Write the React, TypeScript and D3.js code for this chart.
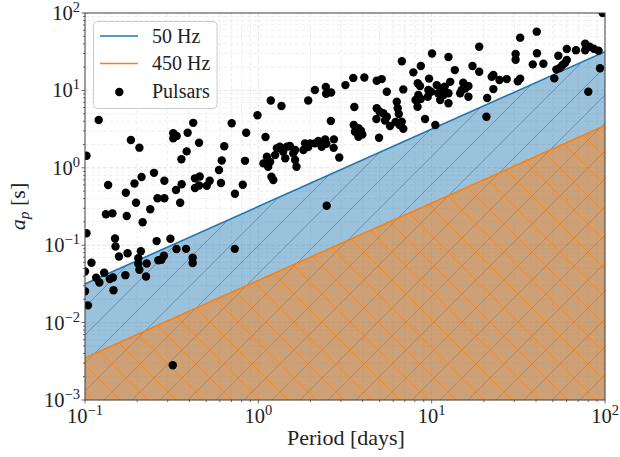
import React from 'react';
import * as d3 from 'd3';

// ---- data ----
const periodDays = [
  0.102, 0.120, 0.184, 0.206, 0.136, 0.132, 0.144, 0.172, 0.174, 0.193,
  0.197, 0.212, 0.215, 0.238, 0.250, 0.262, 0.287, 0.287, 0.323, 0.323,
  0.338, 0.335, 0.354, 0.360, 0.361, 0.386, 0.391, 0.421, 0.431, 0.431,
  0.455, 0.459, 0.455, 0.504, 0.524, 0.593, 0.609, 0.615, 0.636, 0.702,
  0.733, 0.813, 0.838, 0.851, 0.102, 0.149, 0.150, 0.157, 0.176, 0.109,
  0.210, 0.203, 0.203, 0.206, 0.227, 0.225, 0.259, 0.311, 0.265, 0.276,
  0.285, 0.337, 0.383, 0.418, 0.418, 0.731, 0.100, 0.116, 0.121, 0.129,
  0.139, 0.145, 0.146, 0.171, 0.100, 0.104, 0.321,
  0.989, 1.10, 1.18, 1.36, 1.94, 1.07, 1.12, 1.14, 1.19, 1.22,
  1.28, 1.33, 1.39, 1.46, 1.52, 1.59, 1.63, 1.66, 1.82, 1.86,
  1.25, 1.43, 1.17, 1.94, 1.63, 2.48,
  2.12, 2.45, 2.46, 2.63, 3.18, 3.53, 4.09, 4.82, 5.15, 5.51,
  6.73, 6.86, 7.84, 8.66, 9.66, 10.05, 8.31, 8.57, 9.57, 9.92,
  8.38, 8.07, 8.29, 8.65, 9.49, 9.16, 3.58, 2.62, 3.55, 3.78,
  3.61, 3.91, 3.98, 3.78, 4.82, 5.00, 4.80, 5.26, 5.38, 5.51,
  4.97, 5.75, 6.29, 6.37, 6.46, 6.72, 6.86, 6.19, 6.53,
  1.99, 2.12, 2.22, 2.32, 2.43, 2.47, 2.73, 2.72, 2.93,
  10.7, 10.9, 11.2, 11.4, 11.9, 12.5, 12.5, 12.8, 11.7, 12.5,
  13.6, 10.5, 14.6, 15.2, 15.6, 16.3, 16.3, 14.9, 17.2, 18.8,
  18.8, 20.9, 20.7, 22.2, 22.7, 22.7, 24.6, 27.1, 30.5, 30.5,
  31.4, 32.4, 32.4, 38.3, 40.4, 40.5, 44.1, 51.0, 52.4, 55.0,
  56.9, 58.8, 60.2, 53.8, 60.2, 68.0, 76.9, 76.9, 81.6, 86.1,
  91.8, 80.1, 93.6, 97.0,
];
const apSeconds = [
  1.43, 4.15, 2.29, 1.82, 0.600, 0.251, 0.258, 0.477, 0.238, 0.627,
  0.354, 0.760, 0.198, 0.291, 0.861, 0.405, 0.405, 0.681, 2.79, 2.40,
  2.57, 0.517, 0.354, 1.29, 0.612, 1.63, 2.84, 3.81, 0.731, 0.548,
  2.11, 0.772, 0.590, 0.585, 0.681, 0.937, 0.637, 1.24, 1.90, 3.76,
  0.463, 0.605, 1.23, 2.84, 0.143, 0.122, 0.0962, 0.0714, 0.0788, 0.0593,
  0.0836, 0.0679, 0.0575, 0.0481, 0.0581, 0.0394, 0.113, 0.121, 0.0640, 0.0650,
  0.0730, 0.0893, 0.0897, 0.0687, 0.0589, 0.0897, 0.0457, 0.0379, 0.0330, 0.0440,
  0.0366, 0.0383, 0.0262, 0.0410, 0.0254, 0.0167, 0.00281,
  4.78, 2.50, 7.41, 6.29, 7.41, 1.14, 1.39, 1.03, 0.767, 0.695,
  1.79, 1.87, 1.61, 1.87, 1.91, 1.54, 1.26, 1.03, 1.70, 2.07,
  1.46, 1.33, 1.20, 1.86, 1.70, 0.324,
  10.1, 11.1, 9.04, 9.40, 11.7, 14.5, 14.7, 13.3, 14.0, 9.59,
  23.8, 10.3, 17.1, 20.7, 14.2, 30.0, 12.4, 11.4, 10.1, 9.62,
  8.72, 7.52, 6.16, 7.74, 8.29, 4.27, 6.10, 4.02, 3.57, 3.24,
  2.93, 3.02, 2.69, 2.52, 5.87, 5.34, 4.27, 5.06, 4.08, 4.57,
  2.45, 3.47, 7.14, 5.87, 4.95, 3.94, 3.19, 3.91, 3.57,
  2.07, 2.07, 2.22, 1.87, 2.32, 2.04, 2.33, 1.81, 1.36,
  11.7, 9.18, 7.52, 10.6, 11.2, 9.18, 6.81, 12.9, 8.72, 27.0,
  18.3, 3.57, 9.18, 12.6, 10.6, 11.4, 8.29, 10.1, 20.7, 36.7,
  17.4, 7.98, 4.57, 15.0, 15.8, 10.4, 13.6, 14.0, 29.5, 24.9,
  13.1, 14.2, 48.0, 21.7, 57.4, 30.2, 22.1, 14.3, 18.7, 19.6,
  21.3, 22.6, 24.7, 28.0, 34.3, 33.0, 40.0, 33.0, 36.7, 34.5,
  32.5, 9.62, 19.3, 100,
];

const limitPeriods = [0.1, 100];
const limit50Hz = [0.0316, 31.6];
const limit450Hz = [0.00351, 3.51];
const legendLabels = ['50 Hz', '450 Hz', 'Pulsars'];

const xTickValues = [0.1, 1, 10, 100];
const xTickExps = ['\u22121', '0', '1', '2'];
const yTickValues = [1e-3, 1e-2, 1e-1, 1, 10, 100];
const yTickExps = ['\u22123', '\u22122', '\u22121', '0', '1', '2'];

const W = 620;
const H = 457;
const L = 85, R = 605, T = 13, B = 400;
const FONT = '"Liberation Serif", "DejaVu Serif", serif';
const C0 = '#1f77b4';
const C1 = '#ff7f0e';

function minorTicks(lo: number, hi: number): number[] {
  const out: number[] = [];
  for (let e = Math.round(Math.log10(lo)); e < Math.round(Math.log10(hi)); e++) {
    for (let m = 2; m <= 9; m++) out.push(m * Math.pow(10, e));
  }
  return out;
}

export default function App() {
  const x = d3.scaleLog().domain([0.1, 100]).range([L, R]);
  const y = d3.scaleLog().domain([1e-3, 1e2]).range([B, T]);

  const makeArea = (vals: number[]) =>
    d3
      .area<number>()
      .x((_, i) => x(limitPeriods[i]))
      .y0(() => y(1e-3))
      .y1((_, i) => y(vals[i]))(limitPeriods) as string;
  const blueArea = makeArea(limit50Hz);
  const orangeArea = makeArea(limit450Hz);
  const line = (vals: number[]) =>
    d3
      .line<number>()
      .x((_, i) => x(limitPeriods[i]))
      .y((_, i) => y(vals[i]))(limitPeriods) as string;

  const xMinor = minorTicks(0.1, 100);
  const yMinor = minorTicks(1e-3, 100);

  return (
    <svg
      width={W}
      height={H}
      style={{ position: 'absolute', left: 0, top: 0, background: '#fff' }}
      fontFamily={FONT}
    >
      <defs>
        <clipPath id="plotClip">
          <rect x={L} y={T} width={R - L} height={B - T} />
        </clipPath>
        <pattern id="hatchBlue" patternUnits="userSpaceOnUse" width={28} height={28}>
          <path
            d="M0,28 L28,0 M-7,7 L7,-7 M21,35 L35,21"
            stroke={C0}
            strokeOpacity={0.55}
            strokeWidth={1}
          />
        </pattern>
        <pattern id="hatchOrange" patternUnits="userSpaceOnUse" width={28} height={28}>
          <path
            d="M0,0 L28,28 M-7,21 L7,35 M21,-7 L35,7"
            stroke={C1}
            strokeOpacity={0.6}
            strokeWidth={1}
          />
        </pattern>
      </defs>

      {/* grid */}
      <g strokeDasharray="4,2" strokeWidth={0.8}>
        {xMinor.map((v) => (
          <line key={'xm' + v} x1={x(v)} x2={x(v)} y1={T} y2={B} stroke="#ebebeb" />
        ))}
        {yMinor.map((v) => (
          <line key={'ym' + v} x1={L} x2={R} y1={y(v)} y2={y(v)} stroke="#ebebeb" />
        ))}
        {xTickValues.map((v) => (
          <line key={'xM' + v} x1={x(v)} x2={x(v)} y1={T} y2={B} stroke="#dddddd" />
        ))}
        {yTickValues.map((v) => (
          <line key={'yM' + v} x1={L} x2={R} y1={y(v)} y2={y(v)} stroke="#dddddd" />
        ))}
      </g>

      <g clipPath="url(#plotClip)">
        <path d={blueArea} fill={C0} fillOpacity={0.45} />
        <path d={blueArea} fill="url(#hatchBlue)" />
        <path d={orangeArea} fill={C1} fillOpacity={0.5} />
        <path d={orangeArea} fill="url(#hatchOrange)" />
        <path d={line(limit50Hz)} fill="none" stroke={C0} strokeWidth={1.6} />
        <path d={line(limit450Hz)} fill="none" stroke={C1} strokeWidth={1.6} />
        {periodDays.map((p, i) => (
          <circle key={i} cx={x(p)} cy={y(apSeconds[i])} r={4.2} fill="#000" />
        ))}
      </g>

      {/* spines */}
      <rect x={L} y={T} width={R - L} height={B - T} fill="none" stroke="#444" strokeWidth={1} />

      {/* ticks */}
      <g stroke="#444" strokeWidth={0.8}>
        {xTickValues.map((v) => (
          <line key={'xt' + v} x1={x(v)} x2={x(v)} y1={B} y2={B + 3.5} />
        ))}
        {xMinor.map((v) => (
          <line key={'xtm' + v} x1={x(v)} x2={x(v)} y1={B} y2={B + 2} />
        ))}
        {yTickValues.map((v) => (
          <line key={'yt' + v} x1={L - 3.5} x2={L} y1={y(v)} y2={y(v)} />
        ))}
        {yMinor.map((v) => (
          <line key={'ytm' + v} x1={L - 2} x2={L} y1={y(v)} y2={y(v)} />
        ))}
      </g>

      {/* tick labels */}
      <g fill="#222" fontSize={20.5}>
        {xTickValues.map((v, i) => (
          <text key={'xl' + v} x={x(v)} y={423} textAnchor="middle">
            10<tspan fontSize={14.5} dy={-8}>{xTickExps[i]}</tspan>
          </text>
        ))}
        {yTickValues.map((v, i) => (
          <text key={'yl' + v} x={80} y={y(v) + 7} textAnchor="end">
            10<tspan fontSize={14.5} dy={-8}>{yTickExps[i]}</tspan>
          </text>
        ))}
      </g>

      {/* axis labels */}
      <text x={(L + R) / 2 + 1} y={445} textAnchor="middle" fontSize={22} fill="#222">
        Period [days]
      </text>
      <text
        transform={`translate(25,${(T + B) / 2}) rotate(-90)`}
        textAnchor="middle"
        fontSize={22}
        fill="#222"
      >
        <tspan fontStyle="italic">a</tspan>
        <tspan fontStyle="italic" fontSize={15.5} dy={4}>p</tspan>
        <tspan dy={-4}> [s]</tspan>
      </text>

      {/* legend */}
      <g>
        <rect x={93.5} y={21.5} width={123.5} height={87} rx={4} fill="#fff" fillOpacity={0.85} stroke="#cccccc" />
        <line x1={100} x2={138} y1={36} y2={36} stroke={C0} strokeWidth={1.6} />
        <line x1={100} x2={138} y1={63.5} y2={63.5} stroke={C1} strokeWidth={1.6} />
        <circle cx={119.3} cy={92} r={4.2} fill="#000" />
        <g fontSize={20} fill="#222">
          <text x={152} y={43.3}>{legendLabels[0]}</text>
          <text x={152} y={70.3}>{legendLabels[1]}</text>
          <text x={152} y={97.5}>{legendLabels[2]}</text>
        </g>
      </g>
    </svg>
  );
}
